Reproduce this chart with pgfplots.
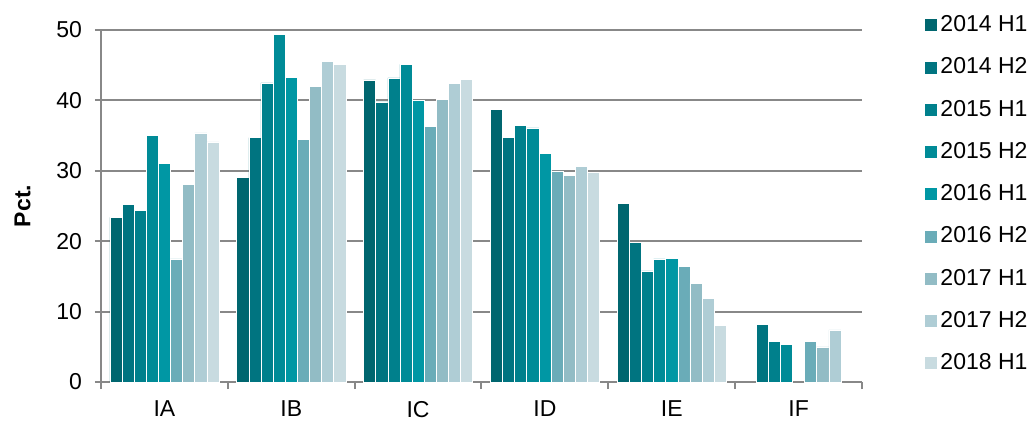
\documentclass[border=0pt]{standalone}
\usepackage{fontspec}
\setmainfont{Liberation Sans}
\usepackage{pgfplots}
\usepackage{pgfplotstable}
\pgfplotsset{compat=1.18}

\definecolor{cA}{HTML}{00666F}
\definecolor{cB}{HTML}{007480}
\definecolor{cC}{HTML}{00808C}
\definecolor{cD}{HTML}{008B97}
\definecolor{cE}{HTML}{0097A4}
\definecolor{cF}{HTML}{6AACB8}
\definecolor{cG}{HTML}{92BCC5}
\definecolor{cH}{HTML}{AFCDD5}
\definecolor{cI}{HTML}{C8DBE0}
\definecolor{axgray}{HTML}{888888}

% group 0..5 = IA..IF, one column per half-year
\pgfplotstableread{
x  a    b    c    d    e    f    g    h    i
0  23.4 25.2 24.4 35.0 31.1 17.5 28.1 35.4 34.1
1  29.1 34.7 42.5 49.4 43.3 34.5 42.0 45.5 45.1
2  42.9 39.8 43.2 45.1 40.0 36.3 40.1 42.4 43.0
3  38.7 34.7 36.5 36.1 32.5 30.0 29.3 30.6 29.8
4  25.4 19.8 15.8 17.5 17.6 16.4 14.0 11.9 8.0
5  nan  8.2  5.8  5.3  nan  5.8  5.0  7.4  nan
}\datatable

\begin{document}
\begin{tikzpicture}[font=\fontsize{11.5bp}{13.5bp}\selectfont]
\useasboundingbox (-50.5bp,-19.5bp) rectangle (466bp,191bp);
\begin{axis}[
    scale only axis,
    width=380.5bp, height=176bp,
    xmin=-0.5, xmax=5.5,
    ymin=0, ymax=50,
    ytick={0,10,...,50},
    xtick={0,...,5},
    xticklabels={IA,IB,IC,ID,IE,IF},
    minor xtick={-0.5,0.5,...,5.5},
    major x tick style={draw=none},
    minor x tick style={draw=axgray, line width=1bp},
    minor tick length=3.5bp,
    major tick length=3bp,
    y tick style={draw=axgray, line width=1bp},
    tick align=outside,
    axis x line*=bottom,
    axis y line*=left,
    axis line style={draw=axgray, line width=1bp, -},
    ymajorgrids,
    grid style={draw=axgray, line width=1bp},
    ybar=0pt,
    bar width=0.0955,
    /pgf/number format/assume math mode=true,
    yticklabel style={xshift=-3bp},
    xticklabel style={yshift=-3bp},
    ylabel={\textbf{Pct.}},
    ylabel style={yshift=6bp},
    legend cell align=left,
    legend image code/.code={\fill[#1] (0bp,-3.25bp) rectangle (6.5bp,3.25bp);},
    legend style={at={(axis description cs:1,1)}, anchor=north west,
        xshift=30.7bp, yshift=9bp, draw=none, fill=none,
        row sep=8.4bp, inner sep=0pt,
        nodes={inner sep=1.6bp}},
    every axis plot/.append style={draw=white, line width=0.25bp},
]
\addplot[fill=cA] table[x=x, y=a] {\datatable};
\addlegendentry{2014 H1}
\addplot[fill=cB] table[x=x, y=b] {\datatable};
\addlegendentry{2014 H2}
\addplot[fill=cC] table[x=x, y=c] {\datatable};
\addlegendentry{2015 H1}
\addplot[fill=cD] table[x=x, y=d] {\datatable};
\addlegendentry{2015 H2}
\addplot[fill=cE] table[x=x, y=e] {\datatable};
\addlegendentry{2016 H1}
\addplot[fill=cF] table[x=x, y=f] {\datatable};
\addlegendentry{2016 H2}
\addplot[fill=cG] table[x=x, y=g] {\datatable};
\addlegendentry{2017 H1}
\addplot[fill=cH] table[x=x, y=h] {\datatable};
\addlegendentry{2017 H2}
\addplot[fill=cI] table[x=x, y=i] {\datatable};
\addlegendentry{2018 H1}
\end{axis}
\end{tikzpicture}
\end{document}
